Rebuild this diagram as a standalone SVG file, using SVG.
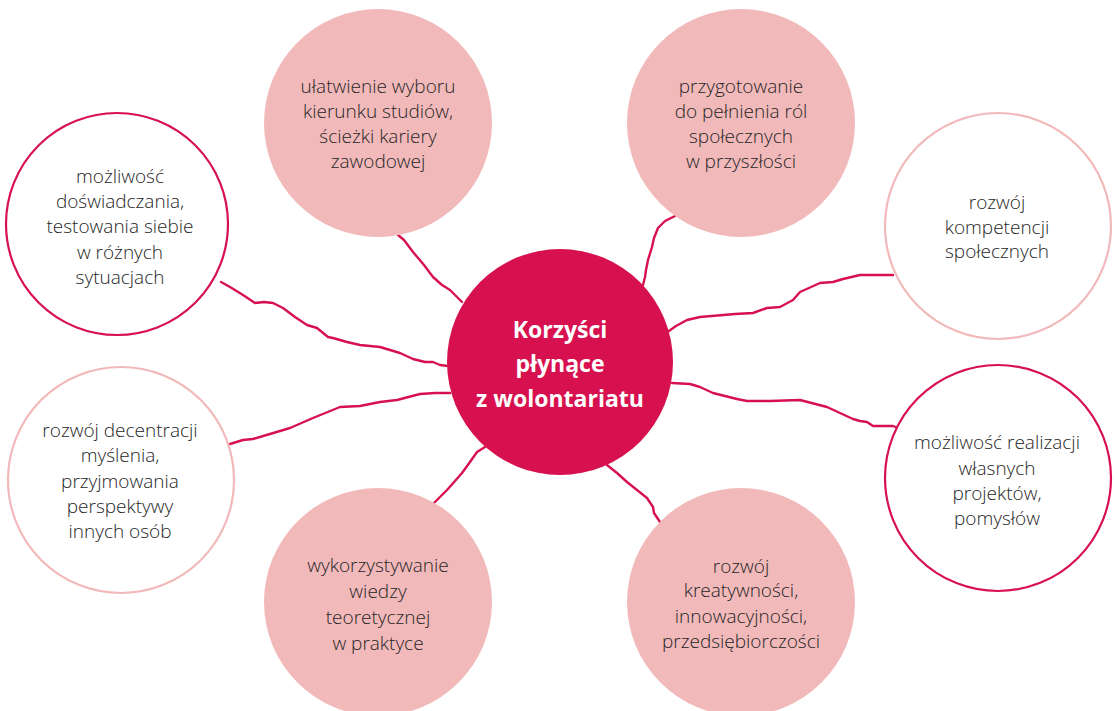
<svg xmlns="http://www.w3.org/2000/svg" width="1119" height="711" viewBox="0 0 1119 711">
<style>
.fill{fill:#F2B9BA}
.ring-red{fill:#fff;stroke:#D7114F;stroke-width:2.2}
.ring-pink{fill:#fff;stroke:#F2B9BA;stroke-width:2.2}
.core{fill:#D7114F}
.t{font-family:"Open Sans","Liberation Sans",sans-serif;font-weight:300;font-size:19px;fill:#262626;text-anchor:middle}
.ct{font-family:"Open Sans","Liberation Sans",sans-serif;font-weight:700;font-size:23px;fill:#fff;text-anchor:middle}
.c{fill:none;stroke:#D7114F;stroke-width:2.4;stroke-linejoin:round;stroke-linecap:round}
</style>
<rect width="1119" height="711" fill="#fff"/>
<g id="connectors">
<path class="c" d="M398,235 L404,240 L413,252 L424,265 L433,277 L442,285 L450,290 L456,296 L462,302"/>
<path class="c" d="M221,282 L230,287 L243,295 L255,303 L264,302 L273,303 L283,308 L295,317 L307,325 L317,328 L328,337 L333,338 L347,342 L360,345 L380,347 L400,353 L413,359 L425,362 L433,362 L440,365 L448,366"/>
<path class="c" d="M230,444 L243,440 L253,439 L270,434 L290,428 L313,418 L340,407 L360,406 L380,402 L397,400 L420,394 L435,393 L450,393"/>
<path class="c" d="M434,503 L447,490 L455,481 L462,473 L470,462 L477,452 L485,447"/>
<path class="c" d="M607,465 L617,473 L627,482 L637,490 L647,498 L653,507 L654,513 L660,522"/>
<path class="c" d="M675,216 L665,221 L658,228 L654,238 L652,247 L648,260 L646,270 L645,277 L643,285"/>
<path class="c" d="M893,275 L875,275 L860,275 L843,279 L833,282 L820,283 L800,292 L793,300 L780,307 L767,308 L753,313 L735,314 L700,317 L687,320 L676,326 L669,331"/>
<path class="c" d="M672,383 L690,384 L700,387 L713,393 L737,399 L747,401 L770,401 L800,400 L827,407 L853,419 L860,421 L867,422 L873,426 L893,426 L898,428"/>
</g>
<g id="n-center">
<circle class="core" cx="560" cy="362" r="113"/>
<text class="ct" x="560" y="338">Korzyści</text>
<text class="ct" x="560" y="372">płynące</text>
<text class="ct" x="560" y="407">z wolontariatu</text>
</g>
<g id="n-studia">
<circle class="fill" cx="378" cy="123" r="114"/>
<text class="t" x="378" y="93">ułatwienie wyboru</text>
<text class="t" x="378" y="118">kierunku studiów,</text>
<text class="t" x="378" y="143">ścieżki kariery</text>
<text class="t" x="378" y="168">zawodowej</text>
</g>
<g id="n-role">
<circle class="fill" cx="741" cy="123" r="114"/>
<text class="t" x="741" y="93">przygotowanie</text>
<text class="t" x="741" y="118">do pełnienia ról</text>
<text class="t" x="741" y="143">społecznych</text>
<text class="t" x="741" y="168">w przyszłości</text>
</g>
<g id="n-testowanie">
<circle class="ring-red" cx="117" cy="224" r="111"/>
<text class="t" x="120" y="183">możliwość</text>
<text class="t" x="120" y="208">doświadczania,</text>
<text class="t" x="120" y="233">testowania siebie</text>
<text class="t" x="120" y="259">w różnych</text>
<text class="t" x="120" y="284">sytuacjach</text>
</g>
<g id="n-kompetencje">
<circle class="ring-pink" cx="998" cy="226" r="113"/>
<text class="t" x="997" y="209">rozwój</text>
<text class="t" x="997" y="234">kompetencji</text>
<text class="t" x="997" y="258">społecznych</text>
</g>
<g id="n-decentracja">
<circle class="ring-pink" cx="121" cy="480" r="113"/>
<text class="t" x="120" y="437">rozwój decentracji</text>
<text class="t" x="120" y="462">myślenia,</text>
<text class="t" x="120" y="488">przyjmowania</text>
<text class="t" x="120" y="513">perspektywy</text>
<text class="t" x="120" y="538">innych osób</text>
</g>
<g id="n-projekty">
<circle class="ring-red" cx="998" cy="478" r="113"/>
<text class="t" x="997" y="449">możliwość realizacji</text>
<text class="t" x="997" y="475">własnych</text>
<text class="t" x="997" y="500">projektów,</text>
<text class="t" x="997" y="525">pomysłów</text>
</g>
<g id="n-wiedza">
<circle class="fill" cx="378" cy="602" r="114"/>
<text class="t" x="378" y="572">wykorzystywanie</text>
<text class="t" x="378" y="598">wiedzy</text>
<text class="t" x="378" y="624">teoretycznej</text>
<text class="t" x="378" y="650">w praktyce</text>
</g>
<g id="n-kreatywnosc">
<circle class="fill" cx="741" cy="602" r="114"/>
<text class="t" x="741" y="573">rozwój</text>
<text class="t" x="741" y="597">kreatywności,</text>
<text class="t" x="741" y="623">innowacyjności,</text>
<text class="t" x="741" y="648">przedsiębiorczości</text>
</g>
</svg>
